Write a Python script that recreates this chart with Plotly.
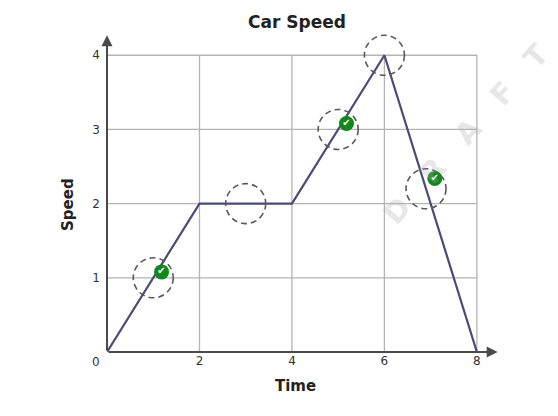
import plotly.graph_objects as go

# Data
time = [0, 2, 4, 6, 8]
speed = [0, 2, 2, 4, 0]
circle_x = [1, 3, 5, 6, 6.9]
circle_y = [1, 2, 3, 4, 2.2]
check_x = [1.18, 5.18, 7.09]
check_y = [1.08, 3.08, 2.34]
x_ticks = [2, 4, 6, 8]
y_ticks = [1, 2, 3, 4]

FONT = "DejaVu Sans"
GRID = "#b4b4b4"
AXIS = "#4a4a4a"

# page body has an 8px margin -> figure is 550x408 placed at (8,8)
L, T = 99, 25

fig = go.Figure()

fig.add_trace(go.Scatter(
    x=time, y=speed, mode="lines",
    line=dict(color="#4b4b78", width=2.2),
    hoverinfo="skip", showlegend=False,
))

fig.add_trace(go.Scatter(
    x=check_x, y=check_y, mode="markers+text",
    marker=dict(size=15, color="#12871c", line=dict(width=0)),
    text=["✔"] * len(check_x), textposition="middle center",
    textfont=dict(color="white", size=10, family=FONT),
    cliponaxis=False, hoverinfo="skip", showlegend=False,
))

shapes = []
for xv in x_ticks:
    shapes.append(dict(type="line", xref="x", yref="y", x0=xv, x1=xv, y0=0, y1=max(y_ticks),
                       line=dict(color=GRID, width=1.3), layer="below"))
for yv in y_ticks:
    shapes.append(dict(type="line", xref="x", yref="y", x0=0, x1=max(x_ticks), y0=yv, y1=yv,
                       line=dict(color=GRID, width=1.3), layer="below"))
for cx, cy in zip(circle_x, circle_y):
    shapes.append(dict(type="circle", xref="x", yref="y",
                       xsizemode="pixel", ysizemode="pixel",
                       xanchor=cx, yanchor=cy, x0=-20, x1=20, y0=-20, y1=20,
                       line=dict(color="#5a5a5a", width=1.6, dash="6px,4px"),
                       layer="above"))

annotations = [
    dict(x=8.45, y=0, ax=0, ay=0, xref="x", yref="y", axref="x", ayref="y",
         text="", showarrow=True, arrowhead=2, arrowsize=1.1, arrowwidth=2, arrowcolor=AXIS),
    dict(x=0, y=4.27, ax=0, ay=0, xref="x", yref="y", axref="x", ayref="y",
         text="", showarrow=True, arrowhead=2, arrowsize=1.1, arrowwidth=2, arrowcolor=AXIS),
    dict(x=0, y=0, xref="x", yref="y", text="0", showarrow=False,
         xanchor="center", yanchor="middle",
         xshift=-11, yshift=-10, font=dict(family=FONT, size=12, color="#333")),
    dict(x=(295 - 107) / 393, y=0, xref="paper", yref="paper", text="<b>Time</b>",
         xanchor="center", yanchor="middle",
         showarrow=False, yshift=-34, font=dict(family=FONT, size=15, color="#222")),
    dict(x=0, y=(352 - 205) / 319, xref="paper", yref="paper", text="<b>Speed</b>",
         xanchor="center", yanchor="middle",
         showarrow=False, xshift=-39, textangle=-90, font=dict(family=FONT, size=15, color="#222")),
    dict(x=(466 - 107) / 393, y=(352 - 134) / 319, xref="paper", yref="paper",
         xanchor="center", yanchor="middle",
         text="<b>D\u00a0\u00a0\u00a0R\u00a0\u00a0\u00a0A\u00a0\u00a0\u00a0F\u00a0\u00a0\u00a0T</b>", showarrow=False,
         textangle=-48, font=dict(family=FONT, size=29, color="rgba(170,170,170,0.3)")),
]

fig.update_layout(
    width=550, height=408,
    margin=dict(l=L, r=550 - L - 393, t=T, b=408 - T - 319),
    paper_bgcolor="white", plot_bgcolor="white",
    title=dict(text="<b>Car Speed</b>", x=(297 - 107) / 393, xref="paper", xanchor="center",
               y=1 - 14 / 408, yref="container", yanchor="middle",
               font=dict(family=FONT, size=17, color="#222")),
    xaxis=dict(range=[0, 8.5], tickvals=x_ticks, ticktext=[str(v) for v in x_ticks],
               showgrid=False, zeroline=False, showline=False, ticks="",
               tickfont=dict(family=FONT, size=12, color="#333"), fixedrange=True),
    yaxis=dict(range=[0, 4.3], tickvals=y_ticks, ticktext=[str(v) for v in y_ticks],
               showgrid=False, zeroline=False, showline=False, ticks="",
               ticklabelstandoff=6,
               tickfont=dict(family=FONT, size=12, color="#333"), fixedrange=True),
    shapes=shapes,
    annotations=annotations,
    showlegend=False,
)

fig.write_html("out.html")
